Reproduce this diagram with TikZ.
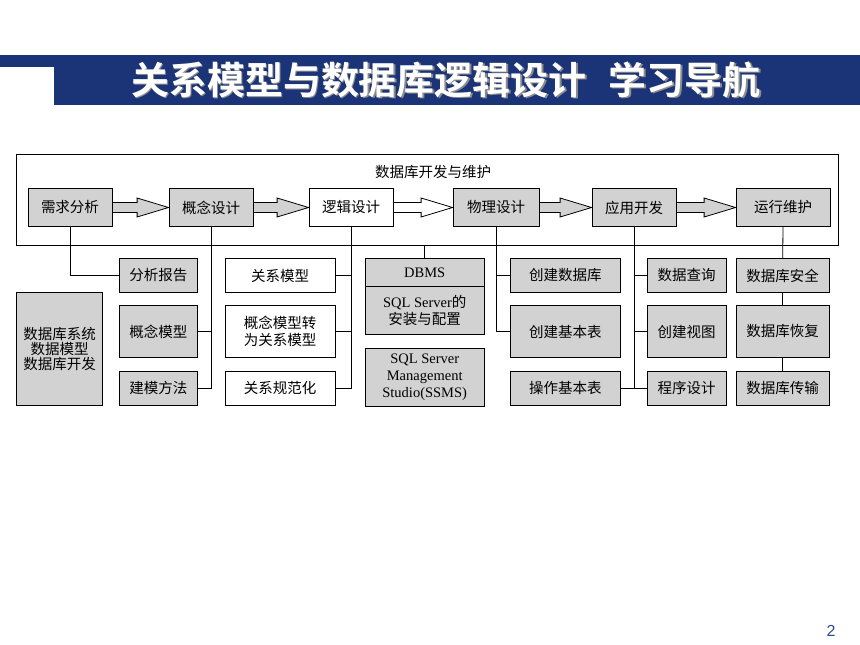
\documentclass[tikz,border=0pt]{standalone}
\usepackage{fontspec}
\setmainfont{Liberation Serif}
\newfontfamily\cjk{Noto Sans CJK SC}[BoldFont={Noto Sans CJK SC Bold}]
\newfontfamily\numfont{Liberation Sans}
\usetikzlibrary{calc}
\definecolor{barblue}{RGB}{27,52,120}
\definecolor{boxgray}{RGB}{210,210,210}
\definecolor{pgblue}{RGB}{47,75,140}
\newcommand\flowarrow[3]{%
  \path[draw=black, line width=0.8pt, fill=#3, line join=miter]
    ([yshift=5pt]#1.east) -- ([xshift=-31.5pt,yshift=5pt]#2.west)
    -- ([xshift=-31.5pt,yshift=9.5pt]#2.west) -- (#2.west)
    -- ([xshift=-31.5pt,yshift=-9.5pt]#2.west) -- ([xshift=-31.5pt,yshift=-5pt]#2.west)
    -- ([yshift=-5pt]#1.east) -- cycle;}
\tikzset{
  gbox/.style={draw=black, line width=0.8pt, fill=boxgray, inner sep=0pt, align=center,
    font=\cjk\fontsize{14.5}{15}\selectfont},
  wbox/.style={gbox, fill=white},
  topbox/.style={minimum height=38.5pt},
  rowa/.style={minimum height=34.4pt},
  rowb/.style={minimum height=51.6pt},
  rowc/.style={minimum height=34.7pt},
  link/.style={draw=black, line width=0.8pt},
  latinbox/.style={gbox, font=\fontsize{14.5}{17}\selectfont},
}
\begin{document}
\begin{tikzpicture}[x=1pt,y=-1pt]
\useasboundingbox (0,0) rectangle (860,645);
% title bar
\fill[barblue] (0,55) rectangle (54,67.3);
\fill[barblue] (54,55) rectangle (860,105);
\node[text=black!45, font=\cjk\bfseries\fontsize{38}{38}\selectfont] (titleshadow) at (447.5,81.5) {关系模型与数据库逻辑设计\hspace{22pt}学习导航};
\node[text=white, font=\cjk\bfseries\fontsize{38}{38}\selectfont] (title) at (446,80) {关系模型与数据库逻辑设计\hspace{22pt}学习导航};
% frame
\node[draw=black, line width=1pt, minimum width=822pt, minimum height=91pt, inner sep=0pt] (frame) at (427,199.5) {};
\node[font=\cjk\fontsize{14.5}{14.5}\selectfont] (ftitle) at (433,172) {数据库开发与维护};
% top row
\node[gbox, topbox, minimum width=84pt] (req) at (70,207.5) {需求分析};
\node[gbox, topbox, minimum width=84pt] (con) at (211,207.5) {概念设计};
\node[wbox, topbox, minimum width=84pt] (log) at (351,207.5) {逻辑设计};
\node[gbox, topbox, minimum width=86pt] (phy) at (496,207.5) {物理设计};
\node[gbox, topbox, minimum width=84pt] (app) at (634,207.5) {应用开发};
\node[gbox, topbox, minimum width=94pt] (ops) at (783,207.5) {运行维护};
\flowarrow{req}{con}{boxgray}
\flowarrow{con}{log}{boxgray}
\flowarrow{log}{phy}{white}
\flowarrow{phy}{app}{boxgray}
\flowarrow{app}{ops}{boxgray}
% left intro box
\node[gbox, minimum width=86pt, minimum height=113.4pt] (intro) at (59.7,349) {数据库系统\\数据模型\\数据库开发};
% column A
\node[gbox, rowa, minimum width=78pt] (rpt) at (158.3,275.5) {分析报告};
\node[gbox, rowb, minimum width=78pt] (cmodel) at (158.3,331.5) {概念模型};
\node[gbox, rowc, minimum width=78pt] (method) at (158.3,388.3) {建模方法};
% column B
\node[wbox, rowa, minimum width=110pt] (rm) at (280,275.5) {关系模型};
\node[wbox, rowb, minimum width=110pt, font=\cjk\fontsize{14.5}{17.5}\selectfont] (conv) at (280,331.5) {概念模型转\\为关系模型};
\node[wbox, rowc, minimum width=110pt] (norm) at (280,388.3) {关系规范化};
% DBMS column
\node[latinbox, minimum width=119.3pt, minimum height=28.4pt] (dbms) at (424.7,272.5) {DBMS};
\node[latinbox, minimum width=119.3pt, minimum height=47.3pt] (inst) at (424.7,310.3) {SQL Server{\cjk 的}\\{\cjk 安装与配置}};
\node[latinbox, minimum width=119.3pt, minimum height=57.7pt, font=\fontsize{14.5}{16.7}\selectfont] (ssms) at (424.7,377.2) {SQL Server\\Management\\Studio(SSMS)};
% column C
\node[gbox, rowa, minimum width=109.3pt] (cdb) at (565.3,275.5) {创建数据库};
\node[gbox, rowb, minimum width=109.3pt] (ctab) at (565.3,331.5) {创建基本表};
\node[gbox, rowc, minimum width=109.3pt] (optab) at (565.3,388.3) {操作基本表};
% column D
\node[gbox, rowa, minimum width=78.7pt] (query) at (686.7,275.5) {数据查询};
\node[gbox, rowb, minimum width=78.7pt] (view) at (686.7,331.5) {创建视图};
\node[gbox, rowc, minimum width=78.7pt] (prog) at (686.7,388.3) {程序设计};
% column E
\node[gbox, rowa, minimum width=93.3pt] (sec) at (782.7,275.5) {数据库安全};
\node[gbox, rowb, minimum width=93.3pt] (rec) at (782.7,331.5) {数据库恢复};
\node[gbox, rowc, minimum width=93.3pt] (trans) at (782.7,388.3) {数据库传输};
% connectors
\draw[link] (req.south) |- (rpt.west);
\draw[link] (con.south) |- (cmodel.east);
\draw[link] (con.south) |- (method.east);
\draw[link] (log.south) |- (rm.east);
\draw[link] (log.south) |- (conv.east);
\draw[link] (log.south) |- (norm.east);
\draw[link] (dbms.north |- frame.south) -- (dbms.north);
\draw[link] (phy.south) |- (cdb.west);
\draw[link] (phy.south) |- (ctab.west);
\draw[link] (app.south) |- (query.west);
\draw[link] (app.south) |- (view.west);
\draw[link] (app.south) |- (prog.west);
\draw[link] (optab.east) -- (prog.west);
\draw[link] (ops.south) -- (sec.north);
\draw[link] (sec.south) -- (rec.north);
\draw[link] (rec.south) -- (trans.north);
% page number
\node[text=pgblue, font=\numfont\fontsize{16}{16}\selectfont] (pg) at (831,631) {2};
\end{tikzpicture}
\end{document}
